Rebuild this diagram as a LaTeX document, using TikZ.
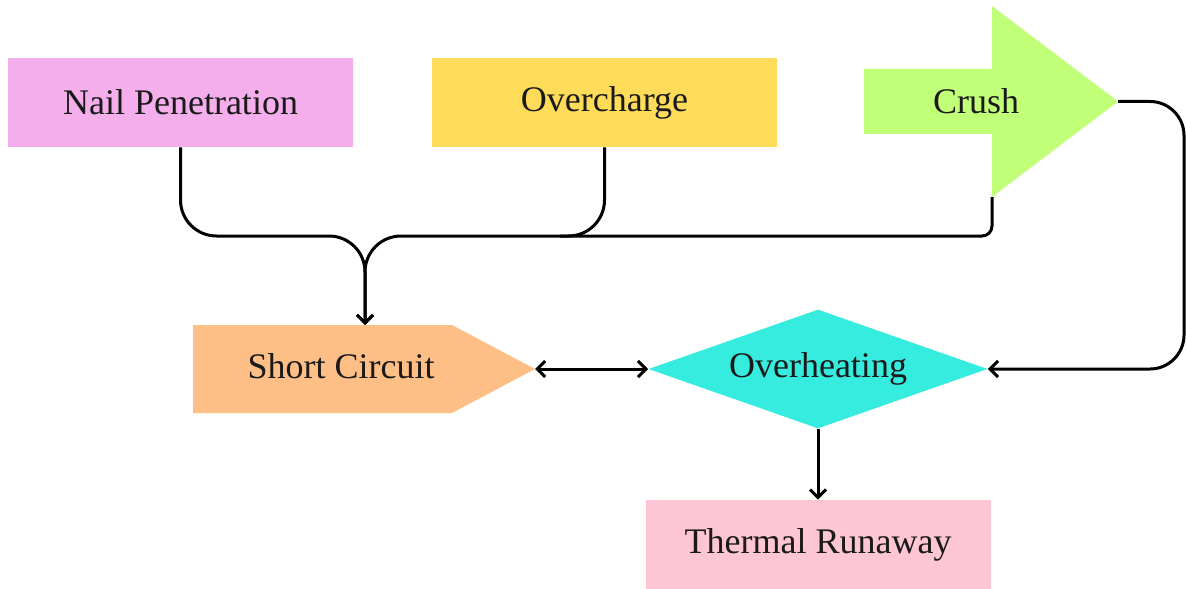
\documentclass[tikz,border=0pt]{standalone}
\usepackage{fontspec}
\setmainfont{Liberation Serif}
\usetikzlibrary{shapes.geometric,arrows.meta}
\definecolor{cNail}{HTML}{F4AEEB}
\definecolor{cOver}{HTML}{FEDC5A}
\definecolor{cCrush}{HTML}{C2FF78}
\definecolor{cShort}{HTML}{FDBF86}
\definecolor{cHeat}{HTML}{35ECDF}
\definecolor{cTherm}{HTML}{FEC5D5}
\definecolor{txt}{HTML}{1A1A1A}
\begin{document}
\begin{tikzpicture}[x=0.5pt,y=-0.5pt,
  box/.style={rectangle, inner sep=0pt, minimum width=172.5pt, minimum height=44.5pt, text=txt, font=\fontsize{18}{22}\selectfont},
  lbl/.style={text=txt, inner sep=0pt, font=\fontsize{18}{22}\selectfont},
  conn/.style={line width=1.5pt, draw=black},
  tip/.style={-{Straight Barb[length=4pt,width=8pt]}},
  both/.style={{Straight Barb[length=4pt,width=8pt]}-{Straight Barb[length=4pt,width=8pt]}}
]
\useasboundingbox (0,0) rectangle (1186,588);
% rectangles
\node[box, fill=cNail] (np) at (180.5,102.5) {Nail Penetration};
\node[box, fill=cOver] (oc) at (604.5,102.5) {Overcharge};
\node[box, fill=cTherm] (tr) at (818,544.5) {Thermal Runaway};
% crush arrow
\fill[cCrush] (864,69) -- (992,69) -- (992,6) -- (1118,101.5) -- (992,197) -- (992,134) -- (864,134) -- cycle;
\node[lbl] (crush) at (976,101.5) {Crush};
\coordinate (crushtip) at (1118,101.5);
\coordinate (crushbot) at (992,197);
% short circuit
\fill[cShort] (193,325) -- (452,325) -- (535,369) -- (452,413) -- (193,413) -- cycle;
\node[lbl] (sc) at (341,366) {Short Circuit};
\coordinate (sctip) at (535,369);
\coordinate (sctop) at (365,325);
% overheating
\node[diamond, fill=cHeat, aspect=2.85, minimum width=169.5pt, minimum height=59.5pt, inner sep=0pt, text=txt, font=\fontsize{18}{22}\selectfont] (oh) at (818,369) {Overheating};
% connectors
\coordinate (join) at (560,236);
\draw[conn, tip, rounded corners=18pt] (np.south) |- (365,236) -- (sctop);
\draw[conn, tip, rounded corners=18pt] (oc.south) |- (365,236) -- (sctop);
\draw[conn, rounded corners=5pt] (crushbot) |- (join);
\draw[conn, tip, rounded corners=17pt] (crushtip) -- (1184,101.5) |- (oh.east);
\draw[conn, both] (sctip) -- (oh.west);
\draw[conn, tip] (oh.south) -- (tr.north);
\end{tikzpicture}
\end{document}
